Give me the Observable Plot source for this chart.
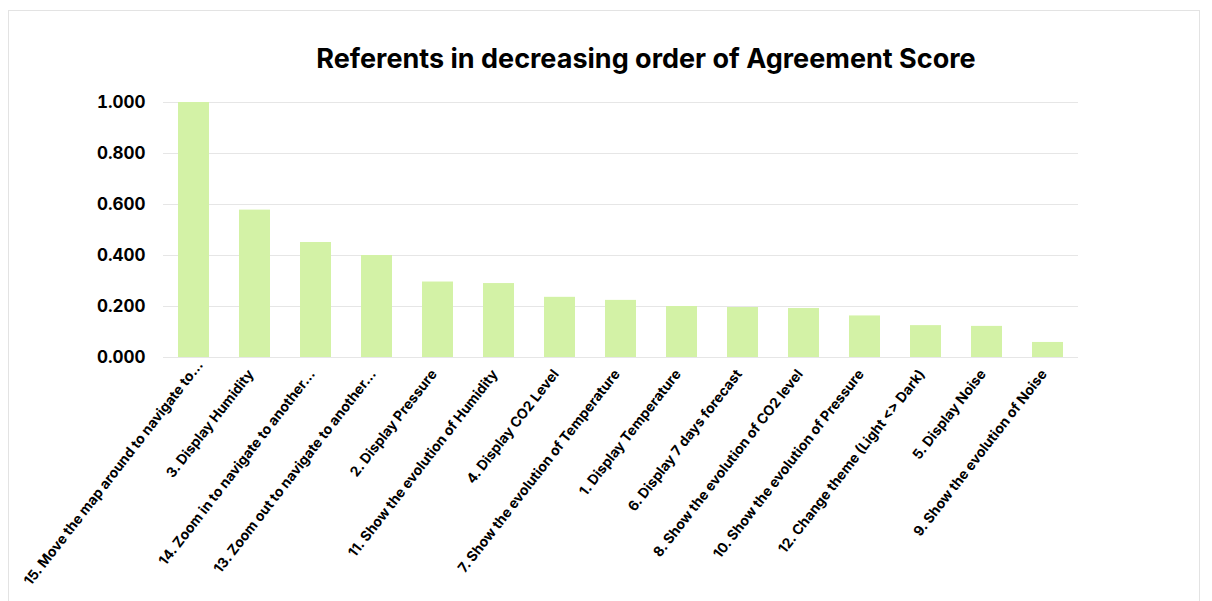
<!DOCTYPE html>
<html>
<head>
<meta charset="utf-8">
<script src="https://cdn.jsdelivr.net/npm/d3@7"></script>
<script src="https://cdn.jsdelivr.net/npm/@observablehq/plot@0.6"></script>
<style>
  html, body { margin: 0; padding: 0; background: #fff; }
  #frame { position: absolute; left: 8px; top: 10px; width: 1192px; height: 620px; border: 1px solid #e3e3e3; box-sizing: border-box; }
  #title { position: absolute; left: 0; top: 42px; width: 1292px; text-align: center; font-family: Inter, "Open Sans", sans-serif; font-weight: 700; font-size: 27px; color: #000; }
  #chart { position: absolute; left: 0; top: 80px; }
</style>
</head>
<body>
<div id="frame"></div>
<div id="title">Referents in decreasing order of Agreement Score</div>
<div id="chart"></div>
<script>
const referents = [
  "15. Move the map around to navigate to…",
  "3. Display Humidity",
  "14. Zoom in to navigate to another…",
  "13. Zoom out to navigate to another…",
  "2. Display Pressure",
  "11. Show the evolution of Humidity",
  "4. Display CO2 Level",
  "7. Show the evolution of Temperature",
  "1. Display Temperature",
  "6. Display 7 days forecast",
  "8. Show the evolution of CO2 level",
  "10. Show the evolution of Pressure",
  "12. Change theme (Light <> Dark)",
  "5. Display Noise",
  "9. Show the evolution of Noise"
];
const scores = [1.000, 0.578, 0.451, 0.400, 0.296, 0.290, 0.236, 0.224, 0.200, 0.196, 0.192, 0.163, 0.125, 0.122, 0.059];
const yTicks = [0, 0.2, 0.4, 0.6, 0.8, 1.0];

const data = referents.map((r, i) => ({referent: r, score: scores[i]}));

const xAxisStyle = {tickRotate: -52, tickSize: 0, tickPadding: 14, fontSize: 14, fontWeight: 700, label: null};

const chart = Plot.plot({
  width: 1212,
  height: 521,
  marginLeft: 163,
  marginRight: 134,
  marginTop: 22,
  marginBottom: 244,
  style: {fontFamily: "Inter, 'Open Sans', sans-serif", fontWeight: 700, color: "#000", background: "transparent"},
  x: {domain: referents, paddingInner: 0.5, paddingOuter: 0.25, label: null},
  y: {domain: [0, 1], label: null},
  marks: [
    Plot.gridY(yTicks, {stroke: "#e6e6e6", strokeOpacity: 1, strokeWidth: 1}),
    Plot.barY(data, {x: "referent", y: "score", fill: "#d3f2a6"}),
    Plot.axisY(yTicks, {tickFormat: d3.format(".3f"), tickSize: 0, tickPadding: 18, fontSize: 17, fontWeight: 700, label: null}),
    Plot.axisX(referents.slice(0, 1), {...xAxisStyle, dx: 6, dy: -9}),
    Plot.axisX(referents.slice(1), {...xAxisStyle, dx: -4})
  ]
});
document.getElementById("chart").appendChild(chart);
</script>
</body>
</html>
